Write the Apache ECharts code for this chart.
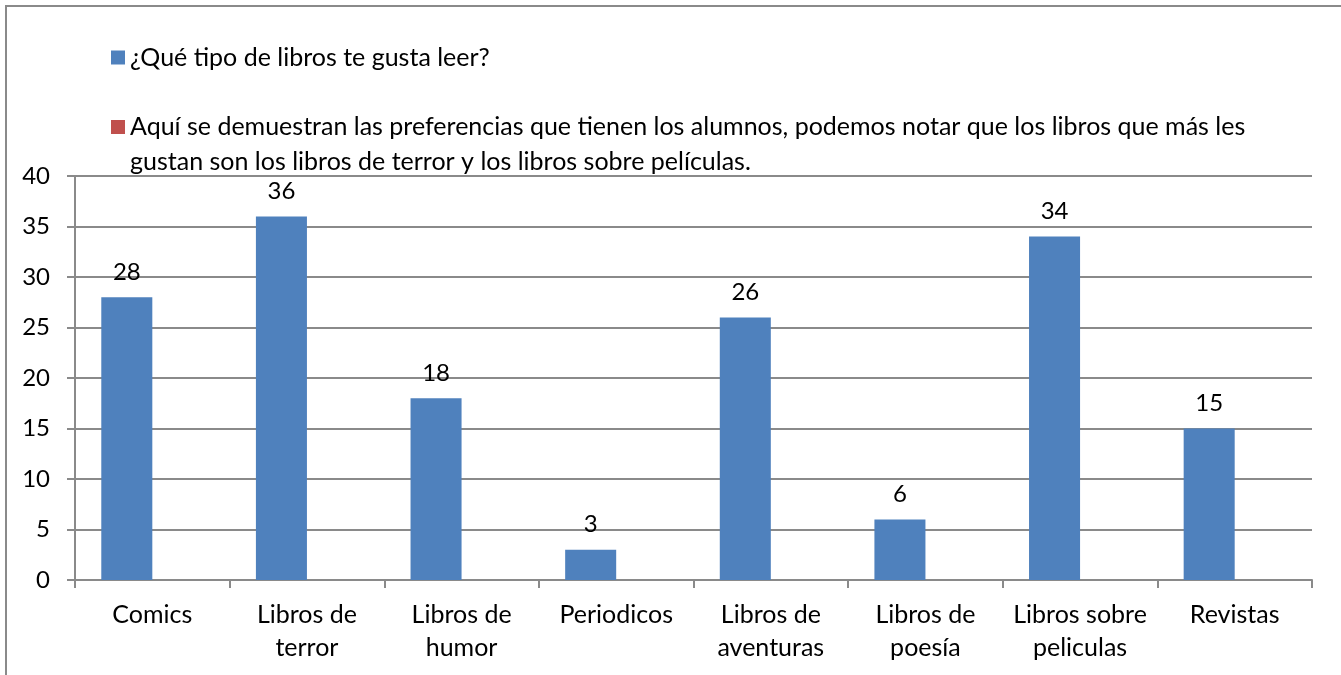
<!DOCTYPE html>
<html>
<head>
<meta charset="utf-8">
<script src="https://cdn.jsdelivr.net/npm/echarts@6/dist/echarts.min.js"></script>
<style>
  html, body { margin: 0; padding: 0; background: #fff; }
  #chart { width: 1341px; height: 675px; }
</style>
</head>
<body>
<div id="chart"></div>
<script>
const categories = ['Comics', 'Libros de terror', 'Libros de humor', 'Periodicos', 'Libros de aventuras', 'Libros de poesía', 'Libros sobre peliculas', 'Revistas']
const seriesNames = [
  '¿Qué tipo de libros te gusta leer?',
  'Aquí se demuestran las preferencias que tienen los alumnos, podemos notar que los libros que más les gustan son los libros de terror y los libros sobre películas.'
]
const values = [28, 36, 18, 3, 26, 6, 34, 15]
const notes = []

const font = 'Lato'
const fs = 25
const numFs = 24
const lh = 35
const grey = '#8a8a8a'

let chart = echarts.init(document.getElementById('chart'))
let option = {
  animation: false,
  textStyle: { fontFamily: font },
  graphic: [{
    type: 'rect',
    shape: { x: 6, y: 6, width: 1500, height: 900 },
    style: { fill: 'none', stroke: grey, lineWidth: 2 },
    silent: true
  }],
  legend: [
    {
      data: [seriesNames[0]],
      left: 111,
      top: 40,
      padding: 0,
      itemWidth: 14,
      itemHeight: 14,
      itemGap: 0,
      icon: 'rect',
      textStyle: { fontFamily: font, fontSize: fs, color: '#000', lineHeight: lh }
    },
    {
      data: [seriesNames[1]],
      left: 111,
      top: 127 - 1.5 * lh,
      padding: 0,
      itemWidth: 14,
      itemHeight: 14,
      icon: 'rect',
      // empty first line keeps the first text line level with the square
      formatter: function (name) { return '\n' + name },
      textStyle: {
        fontFamily: font, fontSize: fs, color: '#000', lineHeight: lh,
        width: 1165, overflow: 'break'
      }
    }
  ],
  grid: { left: 75, right: 29, top: 176, bottom: 95, containLabel: false },
  xAxis: {
    type: 'category',
    data: categories,
    axisLine: { lineStyle: { color: grey, width: 2 } },
    axisTick: { show: true, length: 8, interval: 0, lineStyle: { color: grey, width: 2 } },
    axisLabel: {
      interval: 0,
      margin: 18,
      color: '#000',
      fontFamily: font,
      fontSize: fs,
      lineHeight: 33,
      formatter: function (v) {
        let w = v.split(' ')
        if (w.length > 2) return w.slice(0, 2).join(' ') + '\n' + w.slice(2).join(' ')
        return v
      }
    }
  },
  yAxis: {
    type: 'value',
    min: 0,
    max: 40,
    interval: 5,
    axisLine: { show: true, lineStyle: { color: grey, width: 2 } },
    axisTick: { show: true, length: 8, lineStyle: { color: grey, width: 2 } },
    axisLabel: { color: '#000', fontFamily: font, fontSize: numFs, margin: 25 },
    splitLine: { lineStyle: { color: grey, width: 2 } }
  },
  series: [
    {
      name: seriesNames[0],
      type: 'bar',
      data: values,
      barGap: '0%',
      barCategoryGap: '34%',
      itemStyle: { color: '#4f81bd' },
      label: {
        show: true,
        position: 'top',
        distance: 13,
        color: '#000',
        fontFamily: font,
        fontSize: numFs
      }
    },
    {
      name: seriesNames[1],
      type: 'bar',
      data: notes,
      itemStyle: { color: '#c0504d' }
    }
  ]
}
chart.setOption(option)
</script>
</body>
</html>
